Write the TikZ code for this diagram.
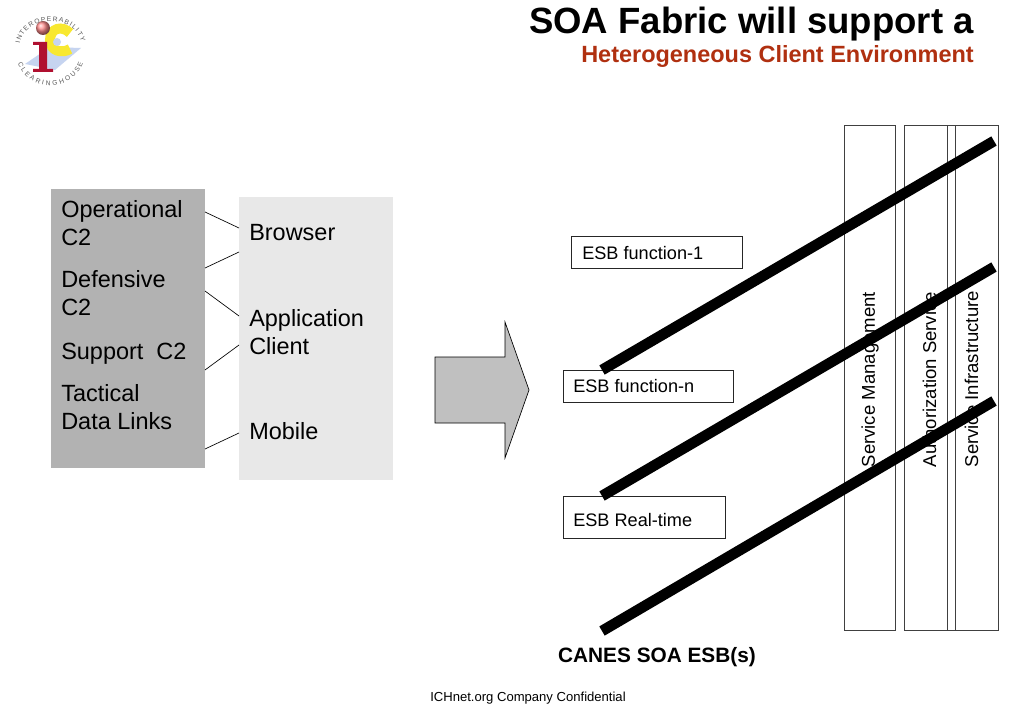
\documentclass[tikz,border=0pt]{standalone}
\usepackage{fontspec}
\setmainfont{Liberation Sans}
\usetikzlibrary{decorations.text}
\definecolor{titlered}{HTML}{B03010}
\definecolor{greybox}{HTML}{B2B2B2}
\definecolor{lightbox}{HTML}{E8E8E8}
\definecolor{arrowfill}{HTML}{C0C0C0}
\definecolor{logoblue}{HTML}{C6D4F0}
\definecolor{logoyellow}{HTML}{F8E830}
\definecolor{logored}{HTML}{B01030}
\tikzset{
  x=0.75pt,y=-0.75pt,
  bodytext/.style={font=\fontsize{17.6}{21.4}\selectfont,anchor=north west,inner sep=0pt,align=left},
  esblabel/.style={font=\fontsize{13.6}{16}\selectfont,anchor=west,inner sep=0pt},
  esbbox/.style={draw=black!85,line width=0.6pt},
  vbox/.style={draw=black!75,line width=0.7pt},
  vlabel/.style={font=\fontsize{13.9}{16}\selectfont,rotate=90,anchor=west,inner sep=0pt},
  link/.style={draw=black,line width=0.5pt},
  bar/.style={line width=8pt,draw=black},
}
\begin{document}
\begin{tikzpicture}
\useasboundingbox (0,0) rectangle (1024,709);
\fill[white] (0,0) rectangle (1024,709);
% logo
\fill[logoblue] (25,64) -- (50,47) -- (81,48) -- (55,70) -- cycle;
\draw[logoyellow,line width=7.5pt] (70,33) .. controls (62,25) and (50,28) .. (50,40) .. controls (50,51) and (62,54) .. (70,49);
\fill[logoblue] (57,42) circle (4);
\fill[logored] (33,42) -- (47,42) -- (47,69) -- (53,69) -- (53,72) -- (33,72) -- (33,69) -- (39,69) -- (39,45) -- (33,45) -- cycle;
\shade[ball color=red!45] (43,28) circle (7);
\path[decorate,decoration={text along path,text align=fit to path,
  text={|\fontsize{5}{6}\selectfont\color{black!65}|INTEROPERABILITY}}]
  (20,44) .. controls (25,14) and (75,14) .. (81,42);
\path[decorate,decoration={text along path,text align=fit to path,
  text={|\fontsize{5}{6}\selectfont\color{black!65}|CLEARINGHOUSE}}]
  (18,63) .. controls (28,93) and (73,93) .. (83,63);
% title
\node[anchor=east,inner sep=0pt,font=\bfseries\fontsize{27.4}{32}\selectfont] (title) at (974,24.5) {SOA Fabric will support a};
\node[anchor=east,inner sep=0pt,text=titlered,font=\bfseries\fontsize{17.6}{21}\selectfont] (subtitle) at (974,56.5) {Heterogeneous Client Environment};
% left boxes
\fill[greybox] (51,189) rectangle (205,468);
\fill[lightbox] (239,197) rectangle (393,480);
\node[bodytext] (op) at (61,200) {Operational\\C2};
\node[bodytext] (def) at (61,270) {Defensive\\C2};
\node[bodytext] (sup) at (61,342.5) {Support~ C2};
\node[bodytext] (tac) at (61,384) {Tactical\\Data Links};
\node[bodytext] (br) at (249,224) {Browser};
\node[bodytext] (app) at (249,309) {Application\\Client};
\node[bodytext] (mob) at (249,422) {Mobile};
% links
\coordinate (l1) at (205,212); \coordinate (r1) at (239,228);
\coordinate (l2) at (205,268); \coordinate (r2) at (239,252);
\coordinate (l3) at (205,291); \coordinate (r3) at (239,316);
\coordinate (l4) at (205,370); \coordinate (r4) at (239,345);
\coordinate (l5) at (205,449); \coordinate (r5) at (239,433);
\draw[link] (l1)--(r1); \draw[link] (l2)--(r2); \draw[link] (l3)--(r3); \draw[link] (l4)--(r4); \draw[link] (l5)--(r5);
% big arrow
\draw[fill=arrowfill,draw=black,line width=0.5pt] (435,357) -- (505,357) -- (505,322) -- (529,390) -- (505,458) -- (505,423) -- (435,423) -- cycle;
% vertical boxes
\draw[vbox] (844.5,125.5) rectangle (895.5,630);
\draw[vbox] (904.5,125.5) rectangle (955.5,630);
\draw[vbox] (947,125.5) rectangle (998,630);
\node[vlabel] (v1) at (870,467.5) {Service Management};
\node[vlabel] (v2) at (929.5,467.5) {Authorization Service};
\node[vlabel] (v3) at (971.5,467.5) {Service Infrastructure};
% ESB boxes
\draw[esbbox] (571,236) rectangle (742.5,268.5);
\draw[esbbox] (563,370) rectangle (733.5,402.5);
\draw[esbbox] (563,496) rectangle (725.5,538.5);
\node[esblabel] (e1) at (582,253) {ESB function-1};
\node[esblabel] (e2) at (573,386) {ESB function-n};
\node[esblabel] (e3) at (573,520.5) {ESB Real-time};
% bars
\coordinate (b1a) at (602,370); \coordinate (b1b) at (994,141);
\coordinate (b2a) at (602,496); \coordinate (b2b) at (994,267);
\coordinate (b3a) at (602,631); \coordinate (b3b) at (994,401);
\draw[bar] (b1a)--(b1b); \draw[bar] (b2a)--(b2b); \draw[bar] (b3a)--(b3b);
% captions
\node[inner sep=0pt,font=\bfseries\fontsize{15.6}{18}\selectfont] (canes) at (657,657) {CANES SOA ESB(s)};
\node[inner sep=0pt,font=\fontsize{9.8}{12}\selectfont] (foot) at (528,698) {ICHnet.org Company Confidential};
\end{tikzpicture}
\end{document}
